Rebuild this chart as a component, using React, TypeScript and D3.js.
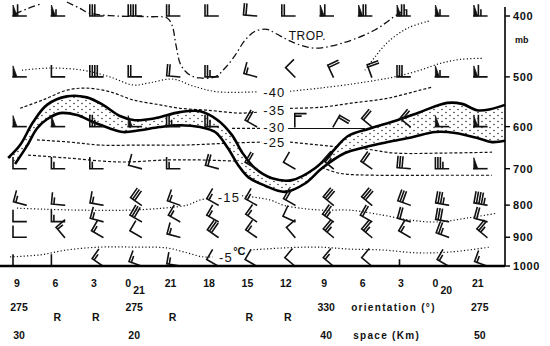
import React from "react";
import * as d3 from "d3";

const W = 550;
const H = 346;

// ---- axis / table labels ----
const timeLabels = ["9", "6", "3", "0", "21", "18", "15", "12", "9", "6", "3", "0", "21"];
const timeSubs = ["", "", "", "21", "", "", "", "", "", "", "", "20", ""];
const orientationLabels = ["275", "R", "R", "275", "R", "", "R", "R", "330", "", "", "", "275"];
const spaceLabels = ["30", "", "", "20", "", "", "", "", "40", "", "", "", "50"];
const pressureTicks = [400, 500, 600, 700, 800, 900, 1000];

// ---- wind barbs (direction deg, speed kt) per level, one per station column ----
const windLevels = [400, 500, 600, 700, 800, 850, 900, 1000];
const dir400 = [270, 270, 270, 270, 270, 270, 275, 270, 270, 270, 270, 270, 270];
const spd400 = [60, 55, 30, 40, 20, 20, 20, 20, 60, 70, 75, 55, 65];
const dir500 = [270, 270, 270, 270, 275, 270, 285, 315, 335, 340, 270, 270, 270];
const spd500 = [50, 10, 40, 20, 20, 25, 15, 10, 20, 20, 30, 55, 60];
const dir600 = [270, 270, 270, 270, 270, 270, 300, 360, 30, 310, 310, 270, 270];
const spd600 = [50, 50, 25, 50, 25, 25, 20, 15, 20, 20, 20, 50, 60];
const dir700 = [270, 270, 270, 285, 270, 285, 300, 300, 310, 305, 275, 270, 270];
const spd700 = [10, 15, 15, 10, 15, 20, 20, 10, 25, 20, 30, 35, 50];
const dir800 = [285, 275, 280, 305, 290, 300, 300, 300, 310, 310, 290, 280, 280];
const spd800 = [15, 15, 15, 30, 15, 15, 15, 20, 30, 30, 30, 35, 45];
const dir850 = [270, 270, 285, 300, 300, 300, 305, 295, 305, 300, 285, 280, 285];
const spd850 = [10, 15, 15, 30, 15, 15, 15, 10, 25, 20, 20, 30, 20];
const dir900 = [270, 320, 300, 300, 285, 305, 305, 320, 310, 310, 300, 290, 310];
const spd900 = [10, 15, 15, 10, 15, 30, 15, 10, 25, 25, 15, 25, 25];
const dir1000 = [270, 270, 305, 290, 280, 300, 300, 310, 310, 310, 270, 300, 290];
const spd1000 = [10, 10, 15, 15, 15, 10, 10, 10, 15, 10, 5, 15, 15];
const windDirs = [dir400, dir500, dir600, dir700, dir800, dir850, dir900, dir1000];
const windSpds = [spd400, spd500, spd600, spd700, spd800, spd850, spd900, spd1000];

// ---- contours: [station column, pressure hPa] ----
const trop1 = [[-0.05, 397], [0.29, 389], [0.6, 383]];
const trop2 = [[1.3, 380], [1.64, 389], [1.9, 396], [2.6, 400], [3.46, 401], [3.91, 403], [4.04, 414], [4.14, 445], [4.27, 479], [4.51, 497], [4.77, 502], [5.16, 500], [5.42, 484], [5.68, 462], [5.94, 437], [6.2, 423], [6.51, 420], [6.72, 426], [7.24, 442], [7.76, 450], [8.46, 442], [9.32, 421], [9.92, 397], [10.18, 389]];
const iso40a = [[0.13, 488], [0.86, 484], [1.72, 488], [2.42, 500], [3.02, 515], [3.46, 511], [4.06, 504], [4.58, 517], [5.21, 528], [6.28, 528]];
const iso40b = [[7.11, 527], [7.89, 521], [8.75, 513], [9.37, 506], [9.9, 499], [10.49, 488], [11.02, 476], [11.54, 469], [12.14, 467]];
const iso45 = [[9.06, 488], [9.32, 465], [9.66, 440], [10.18, 418], [10.76, 407]];
const iso35a = [[0.08, 561], [0.68, 544], [1.3, 525], [1.82, 521], [2.42, 528], [3.02, 544], [3.72, 554], [4.24, 561], [4.97, 565], [5.81, 571], [6.28, 569]];
const iso35b = [[7.11, 561], [7.89, 559], [8.75, 550], [9.64, 541], [10.49, 525], [10.81, 519]];
const iso30a = [[5.6, 604], [6.35, 604]];
const iso30b = [[7.06, 604], [9.06, 604]];
const iso25a = [[0.52, 630], [1.38, 635], [2.16, 642], [3.2, 642], [4.32, 642], [5.63, 637], [6.38, 635]];
const iso25b = [[7.11, 635], [8.1, 644], [9.06, 651], [9.84, 661], [11.15, 661], [12.37, 659]];
const iso20a = [[0.29, 666], [1.3, 673], [2.68, 683], [3.91, 678], [4.77, 678], [5.73, 681]];
const iso20b = [[7.94, 697], [8.41, 712], [9.32, 717], [11.02, 717], [12.37, 717]];
const iso15a = [[0.0, 809], [0.68, 812], [1.72, 815], [2.86, 815], [3.8, 809], [4.43, 800], [4.77, 785], [5.1, 779]];
const iso15b = [[5.86, 773], [6.59, 785], [6.93, 800], [7.37, 809], [7.97, 815], [8.67, 815], [9.53, 830], [10.23, 845], [10.94, 851], [11.72, 839], [12.5, 824]];
const iso5a = [[-0.18, 967], [0.6, 960], [1.3, 943], [2.16, 933], [3.02, 933], [3.91, 936], [4.43, 953], [4.84, 967], [5.1, 967]];
const iso5b = [[6.07, 943], [6.93, 936], [7.81, 933], [8.67, 940], [9.53, 943], [10.42, 953], [11.28, 950], [12.32, 933]];
const frontUpper = [[-0.23, 673], [0.08, 642], [0.42, 590], [0.78, 554], [1.3, 537], [1.82, 539], [2.24, 554], [2.68, 577], [3.07, 586], [3.59, 582], [4.24, 569], [4.77, 567], [5.23, 586], [5.6, 619], [5.86, 659], [6.2, 699], [6.64, 725], [7.16, 730], [7.76, 699], [8.2, 659], [8.62, 621], [9.19, 604], [9.9, 586], [10.49, 569], [11.2, 550], [11.59, 552], [11.98, 565], [12.32, 563], [12.71, 554]];
const frontLower = [[-0.05, 688], [0.26, 644], [0.52, 604], [0.78, 584], [1.12, 571], [1.56, 575], [1.98, 590], [2.42, 604], [2.76, 612], [3.2, 608], [3.72, 601], [4.24, 597], [4.77, 601], [5.16, 612], [5.49, 649], [5.76, 691], [6.02, 722], [6.46, 745], [6.98, 762], [7.5, 739], [7.94, 699], [8.54, 661], [9.06, 647], [9.66, 635], [10.29, 624], [10.89, 612], [11.41, 614], [12.01, 626], [12.37, 635], [12.71, 632]];

// contour labels: text, column, pressure
const contourLabels = [
  { t: "TROP.", c: 7.08, p: 436 },
  { t: "-40", c: 6.41, p: 539 },
  { t: "-35", c: 6.41, p: 575 },
  { t: "-30", c: 6.41, p: 612 },
  { t: "-25", c: 6.41, p: 647 },
  { t: "-15", c: 5.23, p: 791 },
  { t: "-5", c: 5.26, p: 985 },
];

const FONT = "'Liberation Sans', Arial, Helvetica, sans-serif";

const xScale = d3.scaleLinear().domain([0, 12]).range([17, 477.8]);
const yScale = d3.scaleLog().domain([1000, 400]).range([266, 16]);
const AXIS_X = 505;

const line = d3
  .line<number[]>()
  .x((d) => xScale(d[0]))
  .y((d) => yScale(d[1]))
  .curve(d3.curveCatmullRom.alpha(0.5));

function barbPaths(x: number, y: number, dir: number, spd: number) {
  const L = 13;
  const B = 11;
  const step = 2.5;
  const r = (dir * Math.PI) / 180;
  const ux = Math.sin(r);
  const uy = -Math.cos(r);
  const bx = Math.sin(r + Math.PI / 2);
  const by = -Math.cos(r + Math.PI / 2);
  const ex = x + ux * L;
  const ey = y + uy * L;
  let s = Math.round(spd / 5) * 5;
  const pennants = Math.floor(s / 50);
  s -= pennants * 50;
  const full = Math.floor(s / 10);
  s -= full * 10;
  const half = s >= 5;
  let lines = `M${x},${y}L${ex},${ey}`;
  let fills = "";
  let pos = 0;
  for (let i = 0; i < pennants; i++) {
    const p0x = ex - ux * pos, p0y = ey - uy * pos;
    const p1x = ex - ux * (pos + 4), p1y = ey - uy * (pos + 4);
    fills += `M${p0x},${p0y}L${p0x + bx * B},${p0y + by * B}L${p1x},${p1y}Z`;
    pos += 4.6;
  }
  for (let i = 0; i < full; i++) {
    const p0x = ex - ux * pos, p0y = ey - uy * pos;
    lines += `M${p0x},${p0y}L${p0x + bx * B},${p0y + by * B}`;
    pos += step;
  }
  if (half) {
    if (pos === 0) pos = step;
    const p0x = ex - ux * pos, p0y = ey - uy * pos;
    lines += `M${p0x},${p0y}L${p0x + bx * B * 0.55},${p0y + by * B * 0.55}`;
  }
  return { lines, fills };
}

export default function App() {
  const upper = line(frontUpper as number[][]) || "";
  const lower = line([...frontLower].reverse() as number[][]) || "";
  const bandPath = upper + "L" + lower.slice(1) + "Z";

  const dotted = { fill: "none", stroke: "#111", strokeWidth: 1.2, strokeDasharray: "1.2 2.2" };
  const dashed = { fill: "none", stroke: "#111", strokeWidth: 1.2, strokeDasharray: "3 2" };
  const dashDot = { fill: "none", stroke: "#111", strokeWidth: 1.3, strokeDasharray: "7 3 1.5 3" };

  const barbs: JSX.Element[] = [];
  windLevels.forEach((p, li) => {
    windDirs[li].forEach((d, ci) => {
      const sp = windSpds[li][ci];
      if (sp == null) return;
      const { lines, fills } = barbPaths(xScale(ci) + 9, yScale(p), d, sp);
      barbs.push(
        <g key={`b${li}-${ci}`}>
          <path d={lines} fill="none" stroke="#111" strokeWidth={1.6} strokeLinecap="square" />
          {fills && <path d={fills} fill="#111" stroke="#111" strokeWidth={0.8} />}
        </g>
      );
    });
  });

  return (
    <svg
      width={W}
      height={H}
      viewBox={`0 0 ${W} ${H}`}
      style={{ position: "absolute", left: 0, top: 0, background: "#fff" }}
      fontFamily={FONT}
    >
      <defs>
        <pattern id="stip" width="8" height="6" patternUnits="userSpaceOnUse">
          <circle cx="2" cy="1.5" r="0.75" fill="#222" />
          <circle cx="6" cy="4.5" r="0.75" fill="#222" />
        </pattern>
      </defs>
      <rect x={0} y={0} width={W} height={H} fill="#fff" />

      {/* isotherms and tropopause */}
      <path d={line(trop1 as number[][]) || ""} {...dashDot} />
      <path d={line(trop2 as number[][]) || ""} {...dashDot} />
      <path d={line(iso40a as number[][]) || ""} {...dotted} />
      <path d={line(iso40b as number[][]) || ""} {...dotted} />
      <path d={line(iso45 as number[][]) || ""} {...dotted} />
      <path d={line(iso35a as number[][]) || ""} {...dashed} />
      <path d={line(iso35b as number[][]) || ""} {...dashed} />
      <path d={line(iso30a as number[][]) || ""} {...dashed} />
      <path d={line(iso30b as number[][]) || ""} fill="none" stroke="#111" strokeWidth={1.1} />
      <path d={line(iso25a as number[][]) || ""} {...dashed} />
      <path d={line(iso25b as number[][]) || ""} {...dashed} />
      <path d={line(iso20a as number[][]) || ""} {...dashed} />
      <path d={line(iso20b as number[][]) || ""} {...dashed} />
      <path d={line(iso15a as number[][]) || ""} {...dotted} />
      <path d={line(iso15b as number[][]) || ""} {...dotted} />
      <path d={line(iso5a as number[][]) || ""} {...dotted} />
      <path d={line(iso5b as number[][]) || ""} {...dotted} />

      {/* frontal zone */}
      <path d={bandPath} fill="#fff" stroke="none" />
      <path d={bandPath} fill="url(#stip)" stroke="none" />
      <path d={upper} fill="none" stroke="#000" strokeWidth={2.6} />
      <path d={line(frontLower as number[][]) || ""} fill="none" stroke="#000" strokeWidth={2.6} />

      {/* wind barbs */}
      {barbs}

      {/* contour labels */}
      {contourLabels.map((l, i) => (
        <text
          key={`cl${i}`}
          x={xScale(l.c)}
          y={yScale(l.p)}
          fontSize={l.t === "TROP." ? 12 : 13}
          letterSpacing={l.t === "TROP." ? 0.4 : 1.2}
          fill="#111"
        >
          {l.t}
        </text>
      ))}
      <text x={xScale(5.63)} y={yScale(960)} fontSize={11} fill="#111" fontWeight="bold">
        °C
      </text>

      {/* ground line and right pressure axis */}
      <line x1={0} x2={AXIS_X} y1={yScale(1000)} y2={yScale(1000)} stroke="#000" strokeWidth={2.6} />
      <line x1={AXIS_X} x2={AXIS_X} y1={7} y2={yScale(1000)} stroke="#000" strokeWidth={1.6} />
      {pressureTicks.map((p) => (
        <g key={`pt${p}`}>
          <line x1={AXIS_X} x2={AXIS_X + 5} y1={yScale(p)} y2={yScale(p)} stroke="#000" strokeWidth={1.4} />
          <text x={AXIS_X + 8} y={yScale(p) + 4} fontSize={11} fontWeight="bold" letterSpacing={0.6} fill="#111">
            {p}
          </text>
        </g>
      ))}
      <text x={AXIS_X + 10} y={yScale(437) + 3} fontSize={9} fontWeight="bold" fill="#111">
        mb
      </text>

      {/* bottom table */}
      {timeLabels.map((t, i) => (
        <g key={`tl${i}`}>
          <text
            x={xScale(i) - (timeSubs[i] ? 4 : 0)}
            y={287}
            fontSize={10.5}
            fontWeight="bold"
            textAnchor="middle"
            fill="#111"
          >
            {t}
          </text>
          {timeSubs[i] && (
            <text x={xScale(i) + 1} y={294} fontSize={10.5} fontWeight="bold" fill="#111">
              {timeSubs[i]}
            </text>
          )}
        </g>
      ))}
      {orientationLabels.map((t, i) =>
        t ? (
          <text
            key={`or${i}`}
            x={xScale(i) + 2}
            y={t === "R" ? 321 : 311}
            fontSize={10.5}
            fontWeight="bold"
            textAnchor="middle"
            fill="#111"
          >
            {t}
          </text>
        ) : null
      )}
      <text x={xScale(8) + 27} y={311} fontSize={10} fontWeight="bold" letterSpacing={1.3} fill="#111">
        orientation (°)
      </text>
      {spaceLabels.map((t, i) =>
        t ? (
          <text key={`sp${i}`} x={xScale(i) + 2} y={339} fontSize={10.5} fontWeight="bold" textAnchor="middle" fill="#111">
            {t}
          </text>
        ) : null
      )}
      <text x={xScale(8) + 29} y={339} fontSize={10} fontWeight="bold" letterSpacing={1.3} fill="#111">
        space (Km)
      </text>
    </svg>
  );
}
